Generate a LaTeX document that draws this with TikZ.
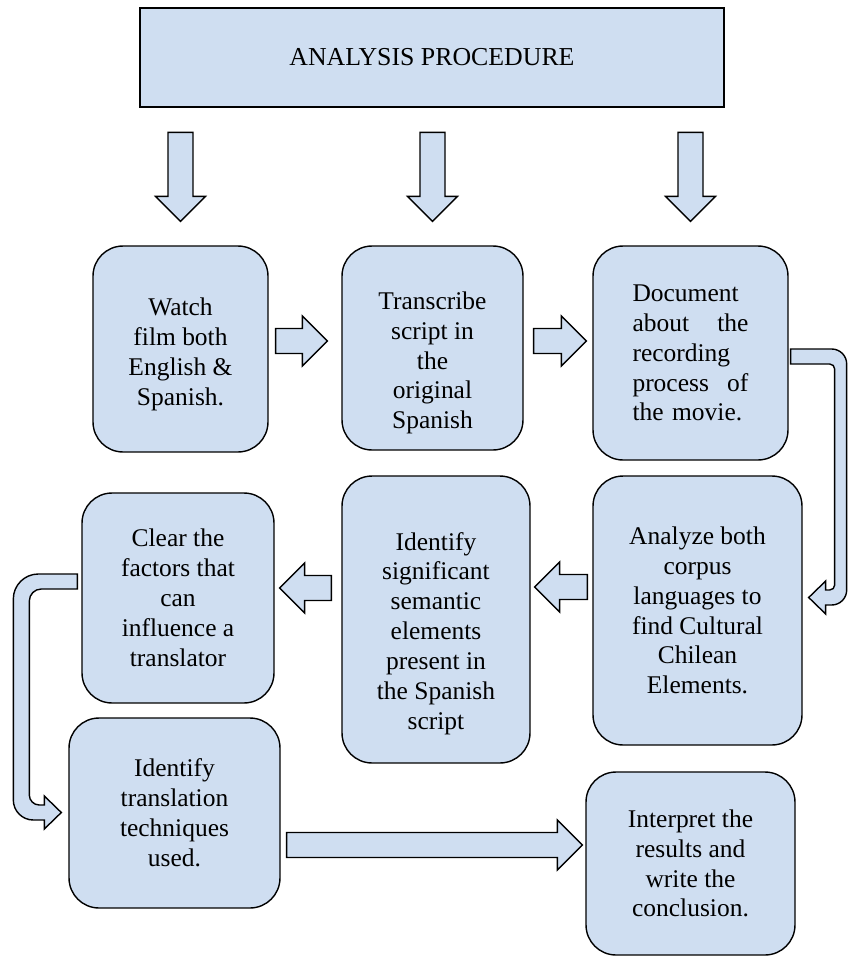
\documentclass[tikz,border=0pt]{standalone}
\usepackage{fontspec}
\setmainfont{Liberation Serif}
\usetikzlibrary{calc}
\definecolor{boxblue}{RGB}{207,222,241}

\newcommand{\fatarrow}[2]{%
  \path let \p1=#1, \p2=#2, \n1={atan2(\y2-\y1,\x2-\x1)}, \n2={veclen(\x2-\x1,\y2-\y1)} in
    \pgfextra{\xdef\fatang{\n1}\xdef\fatlen{\n2}\xdef\fatx{\x1}\xdef\faty{\y1}};
  \draw [blockarrow, shift={(\fatx,\faty)}, rotate=\fatang]
    (0pt,-0.25cm) -- (\fatlen-0.5cm,-0.25cm) -- (\fatlen-0.5cm,-0.5cm) -- (\fatlen,0pt)
    -- (\fatlen-0.5cm,0.5cm) -- (\fatlen-0.5cm,0.25cm) -- (0pt,0.25cm) -- cycle;}

\begin{document}
\begin{tikzpicture}[x=0.02cm, y=-0.02cm,
    heading/.style={rectangle, draw=black, line width=0.8pt, fill=boxblue, text centered, font=\fontsize{14.7}{17}\selectfont},
    process/.style={rectangle, rounded corners=0.6cm, draw=black, line width=0.8pt, fill=boxblue, align=center, font=\fontsize{14.5}{17}\selectfont},
    blockarrow/.style={draw=black, line width=0.8pt, fill=boxblue, line join=miter}]

    \useasboundingbox (0,0) rectangle (848,960);

    \node (title) [heading, minimum width=11.68cm, minimum height=1.98cm] at (432,57.5) {ANALYSIS PROCEDURE};

    \node (watch) [process, minimum width=3.5cm, minimum height=4.12cm] at (180.5,349) {\rule{0pt}{16pt}Watch\\film both\\English \&\\Spanish.};
    \node (transcribe) [process, minimum width=3.62cm, minimum height=4.08cm] at (432.5,348) {\rule{0pt}{27pt}Transcribe\\script in\\the\\original\\Spanish};
    \node (document) [process, minimum width=3.9cm, minimum height=4.28cm, text width=66pt, align=left] at (690.5,353) {Document\\about\hfill the\\recording\\process\hfill of\\the movie.};
    \node (analyze) [process, minimum width=4.18cm, minimum height=5.38cm] at (697.5,610.5) {Analyze both\\corpus\\languages to\\find Cultural\\Chilean\\Elements.};
    \node (semantic) [process, minimum width=3.76cm, minimum height=5.74cm] at (436,619.5) {\rule{0pt}{26pt}Identify\\significant\\semantic\\elements\\present in\\the Spanish\\script};
    \node (clear) [process, minimum width=3.84cm, minimum height=4.2cm] at (178,598) {Clear the\\factors that\\can\\influence a\\translator};
    \node (techniques) [process, minimum width=4.22cm, minimum height=3.8cm] at (174.5,813) {Identify\\translation\\techniques\\used.};
    \node (interpret) [process, minimum width=4.18cm, minimum height=3.66cm] at (690.5,863.5) {Interpret the\\results and\\write the\\conclusion.};

    \fatarrow{($(watch.north)+(0,-113)$)}{($(watch.north)+(0,-24)$)}
    \fatarrow{($(transcribe.north)+(0,-113)$)}{($(transcribe.north)+(0,-24)$)}
    \fatarrow{($(document.north)+(0,-113)$)}{($(document.north)+(0,-24)$)}

    \fatarrow{($(watch.east)+(7,-8)$)}{($(transcribe.west)+(-14,-7)$)}
    \fatarrow{($(transcribe.east)+(10,-7)$)}{($(document.west)+(-6,-12)$)}
    \fatarrow{($(analyze.west)+(-5,-23.5)$)}{($(semantic.east)+(4,-32.5)$)}
    \fatarrow{($(semantic.west)+(-10,-31.5)$)}{($(clear.east)+(5,-10)$)}
    \fatarrow{($(techniques.east)+(6,32)$)}{($(interpret.west)+(-3,-18.5)$)}

    \draw [blockarrow] ($(document.east)+(2,-4)$) -- ++(41,0) arc[start angle=-90, end angle=0, radius=15]
      -- ++(0,226) arc[start angle=0, end angle=90, radius=15]
      -- ++(-6,0) -- ++(0,9) -- ++(-17,-16.5) -- ++(17,-16.5) -- ++(0,9) -- ++(4,0)
      arc[start angle=90, end angle=0, radius=5] -- ++(0,-216)
      arc[start angle=0, end angle=-90, radius=5] -- ++(-39,0) -- cycle;

    \draw [blockarrow] ($(clear.west)+(-4,-24)$) -- ++(-39,0) arc[start angle=-90, end angle=-180, radius=25]
      -- ++(0,201) arc[start angle=180, end angle=90, radius=20]
      -- ++(11,0) -- ++(0,9) -- ++(17,-16.5) -- ++(-17,-16.5) -- ++(0,9) -- ++(-5,0)
      arc[start angle=90, end angle=180, radius=10] -- ++(0,-194)
      arc[start angle=180, end angle=270, radius=12] -- ++(36,0) -- cycle;

  \end{tikzpicture}
\end{document}
